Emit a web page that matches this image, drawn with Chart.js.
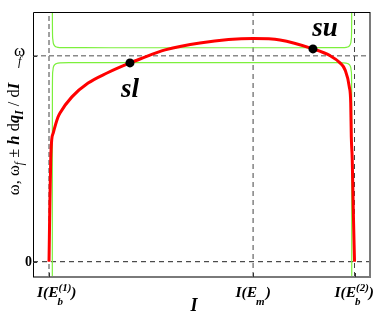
<!DOCTYPE html>
<html>
<head>
<meta charset="utf-8">
<script src="https://cdn.jsdelivr.net/npm/chart.js@4/dist/chart.umd.min.js"></script>
<style>
html,body{margin:0;padding:0;background:#fff;}
canvas{display:block;}
</style>
</head>
<body>
<canvas id="c" width="382" height="313"></canvas>
<script>
// ---- data ----
const xTickValues = [0, 0.668, 1];
const xTickLabels = [
  {main: 'I(E', sub: 'b', sup: '(1)', end: ')'},
  {main: 'I(E', sub: 'm', sup: '', end: ')'},
  {main: 'I(E', sub: 'b', sup: '(2)', end: ')'}
];
const yTickValues = [0, 1];
const yTickLabels = ['0', 'ω'];
const yTickSubs = ['', 'f'];

const redX = [0, 0.0012, 0.003, 0.0056, 0.0088, 0.014, 0.0295, 0.036, 0.075, 0.128, 0.19, 0.265, 0.298, 0.38, 0.494, 0.668, 0.756, 0.864, 0.92, 0.9525, 0.969, 0.983, 0.9876, 0.9895, 0.9925, 0.996, 1];
const redY = [0, 0.12, 0.30, 0.494, 0.591, 0.625, 0.702, 0.722, 0.80, 0.867, 0.916, 0.965, 0.984, 1.028, 1.062, 1.083, 1.076, 1.033, 1.0, 0.965, 0.931, 0.848, 0.77, 0.605, 0.50, 0.25, 0];

const greenLowX = [0.0108, 0.0111, 0.0121, 0.0141, 0.018, 0.0245, 0.036, 0.0687, 0.2, 0.5, 0.8, 0.9331, 0.9658, 0.9773, 0.9838, 0.9877, 0.9897, 0.9907, 0.991];
const greenLowY = [-0.2, 0.834, 0.921, 0.943, 0.955, 0.962, 0.9655, 0.966, 0.9665, 0.9665, 0.9665, 0.966, 0.9655, 0.962, 0.955, 0.943, 0.921, 0.834, -0.2];
const greenUpX = [0.0108, 0.0111, 0.0121, 0.0141, 0.018, 0.0245, 0.036, 0.0687, 0.2, 0.5, 0.8, 0.9331, 0.9658, 0.9773, 0.9838, 0.9877, 0.9897, 0.9907, 0.991];
const greenUpY = [2.2, 1.17, 1.083, 1.061, 1.049, 1.042, 1.0395, 1.039, 1.0385, 1.0385, 1.0385, 1.039, 1.0395, 1.042, 1.049, 1.061, 1.083, 1.17, 2.2];

const markX = [0.265, 0.864];
const markY = [0.965, 1.033];
const markLabels = ['sl', 'su'];

const omegaF = 1;
const xMin = -0.0524, xMax = 1.0507;
const yMin = -0.0743, yMax = 1.212;

// ---- build datasets ----
const pts = (xs, ys) => xs.map((v, i) => ({x: v, y: ys[i]}));
const SERIF = '"Liberation Serif", "DejaVu Serif", serif';

const datasets = [
  {label: 'marks', data: pts(markX, markY), showLine: false, pointRadius: 4.5, pointBackgroundColor: '#000', pointBorderWidth: 0, order: 0},
  {label: 'omega', data: pts(redX, redY), showLine: true, borderColor: '#ff0000', borderWidth: 3, pointRadius: 0, cubicInterpolationMode: 'monotone', order: 1},
  {label: 'upper', data: pts(greenUpX, greenUpY), showLine: true, borderColor: '#7cf03c', borderWidth: 1.2, pointRadius: 0, cubicInterpolationMode: 'monotone', order: 2},
  {label: 'lower', data: pts(greenLowX, greenLowY), showLine: true, borderColor: '#7cf03c', borderWidth: 1.2, pointRadius: 0, cubicInterpolationMode: 'monotone', order: 2},
  // reference dashed lines
  {label: 'Eb1', data: [{x: xTickValues[0], y: yMin}, {x: xTickValues[0], y: yMax}], showLine: true, borderColor: '#8a8a8a', borderWidth: 1.6, borderDash: [5, 3], pointRadius: 0, order: 3},
  {label: 'Em', data: [{x: xTickValues[1], y: yMin}, {x: xTickValues[1], y: yMax}], showLine: true, borderColor: '#444', borderWidth: 1, borderDash: [5, 4], pointRadius: 0, order: 3},
  {label: 'Eb2', data: [{x: xTickValues[2], y: yMin}, {x: xTickValues[2], y: yMax}], showLine: true, borderColor: '#444', borderWidth: 1, borderDash: [5, 4], pointRadius: 0, order: 3},
  {label: 'wf', data: [{x: xMin, y: omegaF}, {x: xMax, y: omegaF}], showLine: true, borderColor: '#8a8a8a', borderWidth: 1.6, borderDash: [5, 3], pointRadius: 0, order: 3},
  {label: 'zero', data: [{x: xMin, y: 0}, {x: xMax, y: 0}], showLine: true, borderColor: '#222', borderWidth: 1, borderDash: [5, 4], pointRadius: 0, order: 3}
];

function drawRuns(ctx, runs, x, y, align) {
  let w = 0;
  const widths = runs.map(r => {
    if (r.stack) {
      const ws = r.stack.map(s => { ctx.font = s.font; return ctx.measureText(s.text).width; });
      return Math.max(...ws);
    }
    ctx.font = r.font; return ctx.measureText(r.text).width;
  });
  widths.forEach(v => w += v);
  let cx = align === 'center' ? x - w / 2 : (align === 'right' ? x - w : x);
  ctx.textAlign = 'left';
  ctx.textBaseline = 'alphabetic';
  runs.forEach((r, i) => {
    if (r.stack) {
      r.stack.forEach(s => { ctx.font = s.font; ctx.fillText(s.text, cx + (s.dx || 0), y + (s.dy || 0)); });
    } else {
      ctx.font = r.font; ctx.fillText(r.text, cx + (r.dx || 0), y + (r.dy || 0));
    }
    cx += widths[i];
  });
}

const overlay = {
  id: 'overlay',
  afterDraw(chart) {
    const ctx = chart.ctx, a = chart.chartArea, xs = chart.scales.x, ys = chart.scales.y;
    ctx.save();
    // frame
    ctx.setLineDash([]);
    ctx.strokeStyle = '#7a7a7a'; ctx.lineWidth = 2;
    ctx.beginPath(); ctx.moveTo(a.right, a.top); ctx.lineTo(a.right, a.bottom); ctx.lineTo(a.left, a.bottom); ctx.stroke();
    ctx.strokeStyle = '#000'; ctx.lineWidth = 1;
    ctx.beginPath(); ctx.moveTo(a.left + 0.5, a.bottom); ctx.lineTo(a.left + 0.5, a.top + 0.5); ctx.lineTo(a.right, a.top + 0.5); ctx.stroke();
    // inward ticks
    ctx.strokeStyle = '#333'; ctx.lineWidth = 1;
    xTickValues.forEach(v => {
      const px = Math.round(xs.getPixelForValue(v)) + 0.5;
      ctx.beginPath(); ctx.moveTo(px, a.bottom); ctx.lineTo(px, a.bottom - 4); ctx.stroke();
    });
    yTickValues.forEach(v => {
      const py = Math.round(ys.getPixelForValue(v)) + 0.5;
      ctx.beginPath(); ctx.moveTo(a.left, py); ctx.lineTo(a.left + 4, py); ctx.stroke();
    });
    ctx.fillStyle = '#000';
    // x tick labels
    const bi = s => 'italic bold ' + s + 'px ' + SERIF;
    const xOffsets = [-12, -17.5, -20];
    xTickLabels.forEach((lab, i) => {
      const px = xs.getPixelForValue(xTickValues[i]) + xOffsets[i];
      const stack = [{text: lab.sub, font: bi(11), dy: 8, dx: -1}];
      if (lab.sup) stack.push({text: lab.sup, font: bi(11), dy: -6, dx: 0});
      drawRuns(ctx, [
        {text: lab.main, font: bi(15.5)},
        {stack: stack},
        {text: lab.end, font: bi(15.5)}
      ], px, a.bottom + 20, 'left');
    });
    // x title
    drawRuns(ctx, [{text: 'I', font: bi(18)}], 194, 311, 'center');
    // y tick labels
    yTickValues.forEach((v, i) => {
      const py = ys.getPixelForValue(v);
      if (yTickSubs[i]) {
        ctx.font = '17px ' + SERIF; ctx.textAlign = 'left'; ctx.textBaseline = 'alphabetic';
        ctx.fillText(yTickLabels[i], 14, py);
        ctx.font = 'italic 12px ' + SERIF;
        ctx.fillText(yTickSubs[i], 18, py + 9);
      } else {
        ctx.font = 'bold 14px ' + SERIF; ctx.textAlign = 'right'; ctx.textBaseline = 'middle';
        ctx.fillText(yTickLabels[i], a.left - 1, py + 1);
      }
    });
    // y title (rotated)
    ctx.save();
    ctx.translate(19, 139);
    ctx.rotate(-Math.PI / 2);
    const n = s => s + 'px ' + SERIF;
    drawRuns(ctx, [
      {text: 'ω, ω', font: n(16.5)},
      {text: 'f', font: 'italic ' + n(11.5), dy: 4},
      {text: ' ± ', font: n(16.5)},
      {text: 'h', font: bi(16.5)},
      {text: ' d', font: n(16.5)},
      {text: 'q', font: bi(16.5)},
      {text: 'I', font: bi(11.5), dy: 4},
      {text: ' / d', font: n(16.5)},
      {text: 'I', font: bi(16.5)}
    ], 0, 0, 'center');
    ctx.restore();
    // point labels
    const lblOff = [{dx: 0, dy: 34}, {dx: 12, dy: -13}];
    markLabels.forEach((t, i) => {
      const px = xs.getPixelForValue(markX[i]) + lblOff[i].dx;
      const py = ys.getPixelForValue(markY[i]) + lblOff[i].dy;
      drawRuns(ctx, [{text: t, font: bi(27)}], px, py, 'center');
    });
    ctx.restore();
  }
};

new Chart(document.getElementById('c'), {
  type: 'scatter',
  data: {datasets},
  options: {
    responsive: false,
    animation: false,
    devicePixelRatio: 1,
    layout: {padding: {left: 33, right: 12, top: 12, bottom: 36}},
    plugins: {legend: {display: false}, tooltip: {enabled: false}},
    scales: {
      x: {type: 'linear', min: xMin, max: xMax, display: false},
      y: {type: 'linear', min: yMin, max: yMax, display: false}
    }
  },
  plugins: [overlay]
});
</script>
</body>
</html>
